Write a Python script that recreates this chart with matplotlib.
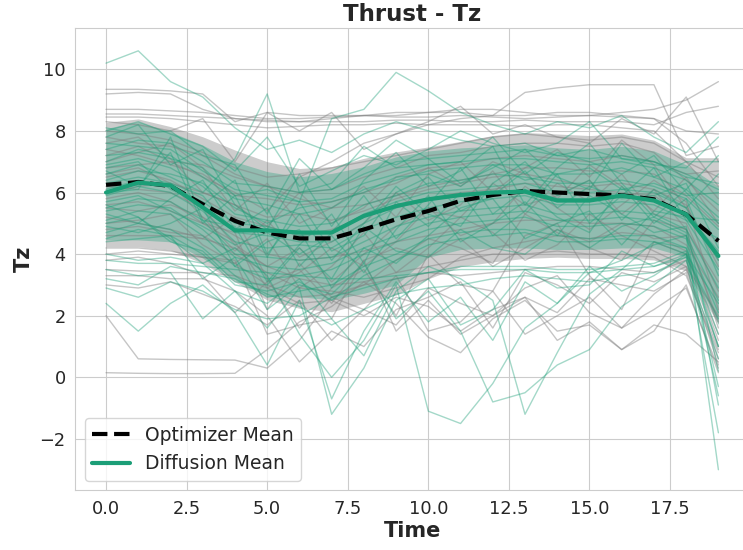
import matplotlib
matplotlib.use("Agg")
import matplotlib.pyplot as plt
import seaborn as sns
import numpy as np

# time steps
time = list(range(20))

# mean curves
opt_mean = [6.25, 6.34, 6.21, 5.62, 5.08, 4.70, 4.51, 4.51, 4.80, 5.13,
            5.40, 5.73, 5.92, 6.05, 6.00, 5.95, 5.91, 5.78, 5.29, 4.43]
diff_mean = [6.00, 6.32, 6.23, 5.52, 4.77, 4.77, 4.70, 4.70, 5.24, 5.56,
             5.78, 5.92, 6.00, 6.03, 5.74, 5.74, 5.90, 5.74, 5.29, 3.94]

# shaded bands (lower / upper edges)
opt_low = [4.24, 4.24, 4.13, 3.70, 3.10, 2.51, 2.24, 2.13, 2.40, 2.67,
           3.20, 3.59, 3.75, 3.86, 3.90, 3.86, 3.86, 3.81, 3.45, 1.73]
opt_high = [8.28, 8.39, 8.14, 7.81, 7.38, 7.00, 6.78, 6.84, 7.11, 7.32,
            7.48, 7.66, 7.85, 7.95, 7.90, 7.85, 7.90, 7.70, 7.13, 7.13]
diff_low = [4.46, 4.46, 4.40, 3.87, 3.16, 2.62, 2.62, 2.51, 2.73, 3.00,
            3.90, 4.15, 4.20, 4.20, 4.15, 4.15, 4.20, 4.20, 3.90, 1.70]
diff_high = [8.08, 8.30, 7.97, 7.54, 7.00, 6.68, 6.51, 6.62, 6.84, 7.16,
             7.35, 7.45, 7.50, 7.55, 7.45, 7.40, 7.50, 7.35, 6.90, 6.20]

# individual optimizer trajectories (gray)
opt_runs = [
    [9.35, 9.35, 9.3, 9.2, 8.3, 8.6, 8.5, 8.5, 8.5, 8.6, 8.6, 8.6, 8.5, 8.5, 8.6, 8.6, 8.5, 8.4, 7.6, 6.2],
    [9.2, 9.25, 9.2, 8.7, 8.4, 8.3, 8.3, 8.4, 8.5, 8.5, 8.6, 8.7, 8.7, 8.6, 8.5, 8.5, 8.6, 8.7, 9.0, 9.6],
    [8.7, 8.7, 8.65, 8.6, 8.5, 8.4, 8.4, 8.45, 8.5, 8.45, 8.45, 8.5, 8.45, 8.4, 8.45, 8.5, 8.45, 8.4, 8.0, 7.9],
    [8.55, 8.55, 8.5, 8.45, 8.4, 8.35, 8.3, 8.3, 8.3, 8.35, 8.35, 8.3, 8.3, 8.35, 8.3, 8.3, 8.3, 8.2, 8.6, 8.8],
    [8.45, 8.45, 8.4, 8.3, 8.2, 8.1, 8.15, 8.2, 8.2, 8.25, 8.2, 8.2, 8.2, 8.15, 8.2, 8.2, 8.1, 8.0, 7.0, 6.5],
    [7.2, 7.5, 7.0, 6.5, 6.0, 5.4, 6.5, 7.0, 7.6, 7.9, 8.2, 8.4, 8.5, 9.25, 9.4, 9.5, 9.5, 9.5, 7.2, 7.5],
    [8.3, 8.2, 8.0, 8.4, 7.0, 8.6, 8.0, 8.6, 7.4, 7.9, 8.3, 8.8, 7.9, 8.2, 7.8, 7.6, 8.4, 7.9, 9.1, 7.0],
    [7.8, 7.6, 7.5, 7.2, 6.6, 6.2, 6.0, 6.1, 6.5, 6.8, 7.2, 7.3, 7.5, 7.6, 7.6, 7.5, 7.6, 7.3, 6.4, 5.4],
    [7.0, 7.3, 7.6, 6.8, 5.4, 6.3, 5.0, 5.5, 6.2, 5.2, 6.6, 7.0, 6.0, 6.8, 7.4, 6.5, 7.7, 6.9, 5.5, 3.8],
    [6.5, 6.7, 6.4, 5.8, 5.2, 4.9, 4.6, 4.8, 5.2, 5.6, 5.8, 6.0, 6.1, 6.3, 6.2, 6.1, 6.0, 5.9, 5.2, 4.4],
    [6.2, 6.1, 6.0, 5.5, 4.3, 3.6, 4.2, 3.1, 4.0, 4.9, 5.4, 5.2, 6.3, 5.6, 5.9, 6.4, 5.3, 6.1, 4.8, 3.1],
    [5.8, 6.0, 5.7, 5.0, 4.4, 2.9, 3.4, 4.2, 3.6, 4.4, 5.5, 4.6, 5.0, 6.2, 5.5, 4.8, 5.6, 6.4, 5.7, 2.2],
    [5.5, 5.4, 5.6, 5.2, 4.6, 4.0, 3.8, 3.9, 4.1, 4.4, 4.6, 4.8, 5.0, 5.1, 5.1, 5.0, 5.0, 4.9, 4.3, 2.6],
    [5.2, 5.0, 4.8, 4.5, 5.2, 3.2, 1.6, 2.9, 3.5, 2.0, 4.0, 3.0, 2.8, 4.6, 5.0, 3.3, 2.2, 4.4, 4.0, 1.4],
    [4.6, 4.6, 4.6, 4.5, 4.2, 3.6, 3.2, 3.0, 3.1, 3.4, 3.6, 3.8, 4.0, 4.0, 4.1, 4.0, 4.0, 3.9, 3.3, 0.8],
    [4.2, 4.2, 4.1, 3.9, 3.7, 3.0, 2.6, 2.7, 3.0, 3.2, 3.4, 3.3, 3.4, 3.5, 3.6, 3.6, 3.5, 3.4, 3.8, 1.0],
    [3.5, 3.45, 3.4, 3.4, 3.3, 2.9, 2.4, 2.5, 2.0, 2.6, 2.3, 1.5, 2.2, 2.6, 2.1, 3.2, 3.0, 2.8, 3.4, 0.6],
    [3.0, 2.9, 3.1, 2.7, 2.3, 1.7, 2.5, 1.2, 2.2, 3.3, 1.5, 1.8, 2.8, 1.4, 2.0, 2.6, 1.6, 2.2, 2.9, 0.3],
    [0.15, 0.13, 0.12, 0.12, 0.13, 0.9, 1.8, 2.3, 3.1, 2.4, 1.3, 0.8, 1.9, 2.5, 1.5, 1.7, 0.9, 1.5, 3.0, 0.15],
    [2.0, 0.6, 0.58, 0.57, 0.56, 0.3, 1.2, 2.6, 2.2, 1.7, 2.9, 2.4, 2.0, 2.9, 3.3, 2.1, 1.6, 2.7, 3.5, 0.9],
    [3.8, 3.9, 3.7, 3.3, 2.1, 3.1, 3.5, 2.4, 3.8, 4.2, 3.9, 4.5, 3.6, 4.2, 4.8, 4.4, 5.0, 4.5, 4.6, 1.8],
    [7.6, 7.8, 7.1, 6.0, 5.6, 4.9, 6.0, 5.0, 5.5, 6.5, 6.8, 6.2, 7.0, 6.6, 5.8, 6.9, 6.2, 5.4, 6.5, 5.0],
    [6.8, 6.9, 7.0, 6.9, 6.5, 6.2, 5.8, 5.5, 5.6, 5.9, 6.2, 6.4, 6.6, 6.8, 6.8, 6.7, 6.7, 6.6, 5.9, 4.9],
    [5.0, 5.1, 5.3, 4.3, 3.7, 4.5, 2.9, 3.6, 4.7, 3.4, 4.2, 5.2, 4.7, 3.8, 4.3, 5.3, 4.6, 4.1, 3.6, 2.0],
    [7.4, 7.2, 6.9, 6.6, 5.9, 5.8, 5.6, 5.7, 6.0, 6.3, 6.8, 6.9, 7.1, 7.2, 7.1, 7.0, 7.2, 7.0, 6.6, 6.7],
    [4.0, 4.1, 4.0, 3.9, 3.8, 1.4, 1.7, 1.9, 3.8, 1.5, 2.5, 1.4, 2.0, 2.6, 1.2, 1.8, 0.9, 1.7, 1.4, 0.5],
    [6.0, 6.2, 6.3, 6.0, 5.6, 5.2, 5.3, 5.1, 5.4, 5.8, 6.1, 6.3, 6.5, 6.6, 6.4, 6.2, 6.3, 6.1, 5.6, 3.6],
    [8.0, 7.9, 7.7, 7.3, 6.8, 6.5, 6.6, 6.8, 7.0, 7.2, 7.4, 7.6, 7.8, 7.9, 7.8, 7.7, 7.8, 7.6, 7.0, 5.8],
    [4.8, 4.9, 4.7, 4.6, 4.0, 3.4, 2.9, 2.8, 2.6, 2.9, 3.2, 3.9, 4.2, 4.4, 4.6, 4.5, 4.7, 4.6, 4.1, 1.2],
    [6.6, 6.8, 6.3, 5.2, 4.1, 5.1, 3.9, 4.4, 5.0, 6.0, 5.1, 5.6, 6.7, 5.3, 6.3, 5.7, 6.6, 5.3, 5.0, 2.8],
    [5.6, 5.7, 5.4, 5.0, 4.7, 2.2, 3.7, 2.6, 3.0, 3.8, 4.5, 4.2, 3.7, 5.3, 4.7, 4.2, 3.8, 5.1, 4.8, 1.6],
    [3.3, 3.3, 3.2, 3.2, 2.8, 2.0, 0.5, 1.5, 1.0, 2.2, 2.6, 3.1, 1.6, 3.4, 3.0, 2.4, 3.4, 3.1, 3.6, 0.4],
]

# individual diffusion samples (green)
diff_runs = [
    [10.2, 10.6, 9.6, 9.1, 8.1, 7.4, 7.7, 7.3, 7.9, 8.3, 8.0, 7.7, 7.5, 7.6, 7.2, 7.4, 7.1, 7.0, 6.5, 6.3],
    [6.6, 6.9, 6.5, 6.0, 7.1, 9.2, 6.0, 6.3, 7.5, 6.8, 6.9, 7.0, 7.8, 6.6, 7.3, 7.0, 6.6, 7.2, 6.0, 5.0],
    [7.2, 7.3, 7.1, 6.8, 5.9, 6.1, 5.7, 8.4, 8.7, 9.9, 9.3, 8.6, 8.2, 7.9, 8.3, 8.1, 8.5, 7.8, 7.3, 8.3],
    [8.0, 8.3, 7.9, 7.5, 6.7, 7.8, 6.2, 6.7, 7.2, 6.9, 7.4, 8.0, 7.6, 7.3, 7.6, 8.3, 7.1, 6.9, 6.8, 7.8],
    [7.6, 7.5, 7.4, 6.7, 6.1, 5.9, 5.7, 5.8, 6.3, 6.6, 6.9, 7.0, 7.1, 7.1, 7.0, 6.9, 7.0, 6.8, 6.4, 5.6],
    [6.9, 7.1, 6.8, 6.2, 5.3, 5.1, 4.9, 5.0, 5.6, 5.9, 6.3, 6.4, 6.6, 6.5, 6.3, 6.3, 6.4, 6.2, 5.8, 4.8],
    [6.3, 6.5, 6.3, 5.9, 4.7, 4.6, 4.4, 4.4, 5.0, 5.5, 5.8, 5.9, 6.0, 6.1, 5.8, 5.8, 5.9, 5.8, 5.3, 4.1],
    [5.9, 6.2, 6.0, 5.4, 4.4, 4.2, 4.3, 4.2, 4.8, 5.2, 5.5, 5.7, 5.8, 5.9, 5.6, 5.6, 5.7, 5.6, 5.1, 3.5],
    [5.5, 5.8, 5.7, 5.1, 4.0, 3.9, 3.8, 3.9, 4.4, 4.9, 5.2, 5.4, 5.5, 5.6, 5.3, 5.3, 5.4, 5.3, 4.8, 2.9],
    [5.1, 5.4, 5.3, 4.6, 3.6, 3.2, 3.3, 3.5, 4.0, 4.4, 4.8, 5.0, 5.1, 5.2, 4.9, 4.9, 5.0, 4.9, 4.5, 2.1],
    [4.7, 5.0, 4.8, 4.2, 3.3, 2.6, 2.8, 3.0, 3.6, 4.0, 4.5, 4.7, 4.8, 4.8, 4.6, 4.5, 4.6, 4.6, 4.2, 1.4],
    [2.4, 1.5, 2.4, 3.0, 2.1, 0.4, 2.5, -0.7, 1.5, 3.1, 1.8, 2.6, 1.2, 3.1, 2.4, 3.6, 2.8, 3.3, 4.0, -0.6],
    [3.5, 3.3, 3.4, 1.9, 2.8, 1.6, 2.9, -1.2, 0.3, 2.5, 3.2, 1.7, 2.2, 3.5, 2.9, 3.0, 4.1, 3.6, 3.9, -1.8],
    [4.0, 3.8, 3.9, 3.7, 4.2, 3.3, 1.4, 0.0, 1.2, 3.0, -1.1, -1.5, -0.2, 1.6, 2.4, 3.4, 3.8, 4.3, 4.6, -3.0],
    [4.4, 4.5, 4.6, 3.2, 3.9, 2.2, 3.0, 2.7, 3.7, 1.9, 2.8, 1.5, -0.8, -0.5, 0.4, 0.9, 2.3, 3.0, 3.8, 0.6],
    [5.6, 5.2, 4.5, 3.7, 2.8, 2.4, 3.2, 1.9, 0.7, 2.8, 3.6, 3.2, 2.5, -1.2, 0.8, 2.7, 3.5, 4.4, 4.2, 1.0],
    [3.8, 3.7, 3.7, 3.6, 3.5, 3.4, 3.3, 3.2, 3.2, 3.3, 3.4, 3.5, 3.5, 3.5, 3.4, 3.4, 3.5, 3.6, 4.0, 2.4],
    [6.0, 6.1, 7.8, 5.1, 4.9, 3.1, 4.3, 5.3, 3.7, 5.7, 4.9, 6.0, 4.6, 5.4, 6.6, 5.0, 5.9, 6.8, 5.1, 4.5],
    [7.8, 8.2, 6.9, 7.4, 5.6, 4.8, 6.6, 4.9, 6.4, 7.3, 6.2, 6.7, 7.5, 5.6, 6.8, 7.6, 6.3, 5.2, 6.1, 7.2],
    [5.3, 5.0, 5.8, 6.4, 4.8, 5.5, 3.6, 4.7, 5.9, 4.5, 5.6, 6.8, 5.3, 6.1, 5.2, 4.7, 6.2, 5.0, 5.8, 3.3],
    [6.8, 7.0, 6.1, 5.6, 6.4, 4.0, 5.3, 3.8, 5.0, 6.2, 5.3, 4.9, 6.3, 7.0, 5.9, 6.4, 5.1, 6.1, 5.5, 6.6],
    [4.9, 4.7, 5.0, 5.5, 3.6, 4.4, 4.8, 2.9, 4.2, 3.7, 4.6, 5.5, 5.8, 4.5, 5.0, 5.4, 4.3, 5.4, 5.2, 5.1],
    [8.1, 7.9, 8.0, 7.2, 6.9, 5.3, 7.1, 6.1, 6.8, 7.7, 7.1, 6.3, 6.8, 7.4, 6.5, 6.1, 7.6, 6.5, 7.0, 7.0],
    [5.7, 5.9, 5.4, 4.9, 4.3, 4.7, 4.0, 4.6, 3.4, 4.8, 5.9, 4.4, 5.0, 5.7, 4.6, 5.9, 5.3, 4.7, 4.9, 0.2],
    [2.9, 2.6, 3.1, 2.8, 2.2, 1.9, 2.0, 2.6, 2.9, 3.2, 3.4, 3.6, 3.6, 3.6, 3.5, 3.5, 3.6, 3.7, 4.1, -0.3],
    [6.4, 6.7, 6.6, 6.3, 5.5, 5.0, 5.5, 5.7, 6.0, 6.5, 6.6, 6.2, 6.9, 6.4, 6.6, 6.8, 6.1, 6.3, 5.9, 6.0],
    [7.0, 7.4, 7.2, 6.5, 5.8, 5.6, 5.3, 5.5, 6.1, 6.4, 6.7, 6.8, 6.9, 6.9, 6.6, 6.6, 6.8, 6.5, 6.1, 5.2],
    [6.1, 6.4, 6.2, 5.7, 5.0, 4.9, 4.6, 4.7, 5.3, 5.7, 6.0, 6.1, 6.2, 6.3, 6.0, 6.0, 6.1, 6.0, 5.5, 3.8],
    [5.4, 5.6, 5.5, 4.8, 3.9, 3.6, 3.5, 3.7, 4.2, 4.6, 5.0, 5.2, 5.3, 5.4, 5.1, 5.1, 5.2, 5.1, 4.6, 2.5],
    [7.4, 7.7, 7.6, 7.0, 6.3, 6.2, 6.0, 6.1, 6.6, 7.0, 7.1, 7.2, 7.3, 7.4, 7.2, 7.1, 7.2, 7.0, 6.6, 6.1],
    [4.5, 4.8, 4.6, 4.0, 3.0, 2.8, 3.1, 2.5, 3.3, 3.8, 4.3, 4.5, 4.6, 4.7, 4.4, 4.4, 4.5, 4.4, 4.0, 1.0],
    [6.7, 6.2, 7.3, 5.0, 5.9, 3.9, 5.7, 4.1, 4.6, 6.0, 6.5, 5.4, 5.9, 6.7, 5.5, 6.2, 5.8, 5.9, 6.3, 4.2],
    [5.0, 5.2, 4.4, 4.1, 3.1, 3.0, 4.2, 3.2, 4.9, 4.1, 3.9, 4.8, 4.2, 4.0, 4.8, 4.2, 4.9, 5.2, 4.7, -0.9],
    [3.2, 3.0, 3.6, 3.4, 3.2, 2.7, 2.3, 1.7, 2.2, 2.7, 2.9, 3.0, 3.2, 3.3, 3.2, 3.1, 3.3, 3.4, 3.9, 1.9],
]

green = '#1b9e77'

sns.set_style("whitegrid")
plt.rcParams['font.family'] = ['DejaVu Sans']

fig = plt.figure(figsize=(7.43, 5.5), dpi=100)
ax = fig.add_axes([0.1015, 0.109, 0.9066, 0.84])

for run in opt_runs:
    ax.plot(time, run, color='gray', alpha=0.45, lw=1.0)
for run in diff_runs:
    ax.plot(time, run, color=green, alpha=0.4, lw=1.0)

ax.fill_between(time, opt_low, opt_high, color='gray', alpha=0.4, lw=0)
ax.fill_between(time, diff_low, diff_high, color=green, alpha=0.33, lw=0)

ax.plot(time, opt_mean, color='black', ls='--', lw=3, label='Optimizer Mean')
ax.plot(time, diff_mean, color=green, lw=3, label='Diffusion Mean')

ax.set_xlim(-0.95, 19.95)
ax.set_ylim(-3.66, 11.34)
ax.set_xticks([0, 2.5, 5, 7.5, 10, 12.5, 15, 17.5])
ax.set_yticks([-2, 0, 2, 4, 6, 8, 10])
ax.tick_params(labelsize=12.8, colors='#262626')
ax.set_title('Thrust - Tz', fontsize=16.5, fontweight='bold', pad=5)
ax.set_xlabel('Time', fontsize=15, fontweight='bold', labelpad=2)
ax.set_ylabel('Tz', fontsize=15, fontweight='bold')
ax.legend(loc='lower left', fontsize=13.5)

fig.savefig('out.png', dpi=100)
